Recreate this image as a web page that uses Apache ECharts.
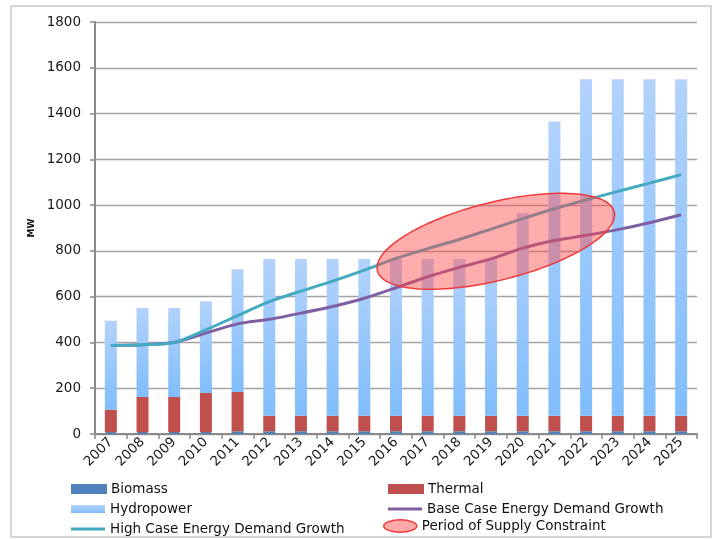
<!DOCTYPE html>
<html>
<head>
<meta charset="utf-8">
<script src="https://cdn.jsdelivr.net/npm/echarts@6/dist/echarts.min.js"></script>
<style>
  html, body { margin: 0; padding: 0; background: #ffffff; }
  #chart { width: 714px; height: 539px; }
</style>
</head>
<body>
<div id="chart"></div>
<script>
// Installed capacity by source (MW) and projected demand, 2007-2025
const years = ['2007','2008','2009','2010','2011','2012','2013','2014','2015','2016',
               '2017','2018','2019','2020','2021','2022','2023','2024','2025'];
const biomass = [8, 8, 8, 8, 12, 12, 12, 12, 12, 12, 12, 12, 12, 12, 12, 12, 12, 12, 12];
const thermal = [98, 154, 154, 171, 171, 68, 68, 68, 68, 68, 68, 68, 68, 68, 68, 68, 68, 68, 68];
const hydropower = [389, 388, 388, 401, 537, 685, 685, 685, 685, 685, 685, 685, 685, 885, 1285, 1470, 1470, 1470, 1470];
const baseDemand = [387, 390, 400, 441, 481, 501, 528, 557, 593, 639, 687, 728, 765, 812, 845, 868, 893, 923, 958];
const highDemand = [387, 390, 400, 455, 517, 578, 624, 668, 716, 767, 810, 850, 895, 941, 984, 1023, 1060, 1096, 1133];
// Supply-constraint period marker: centre (category position, MW)
const constraintCentre = [[12.15, 842]];
const yTicks = { min: 0, max: 1800, interval: 200 };

const FONT = 'DejaVu Sans';
const chart = echarts.init(document.getElementById('chart'), null, { renderer: 'canvas' });

function ellipsePoints(cx, cy, a, b, phi) {
  const pts = [];
  const n = 120;
  for (let i = 0; i < n; i++) {
    const t = (i / n) * Math.PI * 2;
    const ex = a * Math.cos(t), ey = b * Math.sin(t);
    pts.push([cx + ex * Math.cos(phi) + ey * Math.sin(phi),
              cy - ex * Math.sin(phi) + ey * Math.cos(phi)]);
  }
  return pts;
}

const hydroGradient = new echarts.graphic.LinearGradient(0, 0, 0, 1, [
  { offset: 0, color: '#b3d2fc' },
  { offset: 1, color: '#80bdfc' }
]);

const legendText = { fontFamily: FONT, fontSize: 13.5, color: '#111' };
const barLegend = (name, left, top) => ({
  data: [name], left: left, top: top, padding: 0, itemWidth: 34, itemHeight: 8, icon: 'rect',
  textStyle: legendText, selectedMode: false
});
const lineLegend = (name, left, top) => ({
  data: [name], left: left, top: top, padding: 0, itemWidth: 34, itemHeight: 3, icon: 'rect',
  textStyle: legendText, selectedMode: false
});

chart.setOption({
  animation: false,
  backgroundColor: '#ffffff',
  graphic: [{
    type: 'rect', z: -10, silent: true,
    shape: { x: 11, y: 6, width: 700, height: 531 },
    style: { fill: 'none', stroke: '#c8c8c8', lineWidth: 1.5 }
  }],
  legend: [
    barLegend('Biomass', 71, 482),
    barLegend('Hydropower', 71, 502),
    lineLegend('High Case Energy Demand Growth', 71, 522),
    barLegend('Thermal', 388, 482),
    lineLegend('Base Case Energy Demand Growth', 388, 502),
    {
      data: ['Period of Supply Constraint'], left: 383, top: 519, padding: 0,
      itemWidth: 33, itemHeight: 13, selectedMode: false,
      icon: 'path://M0,6A16,6 0 1,0 32,6A16,6 0 1,0 0,6Z',
      itemStyle: { color: 'rgba(255,110,110,0.6)', borderColor: '#ee3a3a', borderWidth: 1.5 },
      textStyle: legendText
    }
  ],
  grid: { left: 95, right: 17, top: 22, bottom: 105, containLabel: false },
  xAxis: {
    type: 'category',
    data: years,
    boundaryGap: true,
    axisLine: { lineStyle: { color: '#8a8a8a', width: 2 } },
    axisTick: { show: true, length: 5, alignWithLabel: false, lineStyle: { color: '#8a8a8a', width: 1.5 } },
    axisLabel: { rotate: 45, margin: 6, fontFamily: FONT, fontSize: 13.5, color: '#1a1a1a' }
  },
  yAxis: {
    type: 'value',
    min: yTicks.min, max: yTicks.max, interval: yTicks.interval,
    name: 'MW', nameLocation: 'middle', nameGap: 52, nameRotate: 90,
    nameTextStyle: { fontFamily: FONT, fontSize: 9, fontWeight: 'bold', color: '#111' },
    axisLine: { show: true, lineStyle: { color: '#8a8a8a', width: 2 } },
    axisTick: { show: true, length: 5, lineStyle: { color: '#8a8a8a', width: 1.5 } },
    axisLabel: { margin: 14, fontFamily: FONT, fontSize: 13.5, color: '#1a1a1a',
                 formatter: function (v) { return String(v); } },
    splitLine: { lineStyle: { color: '#a3a3a3', width: 1.3 } }
  },
  series: [
    {
      name: 'Biomass', type: 'bar', stack: 'supply', data: biomass, barWidth: 12,
      itemStyle: { color: '#4f81bd', borderColor: '#4f81bd', borderWidth: 2 }
    },
    {
      name: 'Thermal', type: 'bar', stack: 'supply', data: thermal, barWidth: 12,
      itemStyle: { color: '#c0504d', borderColor: '#c0504d', borderWidth: 2 }
    },
    {
      name: 'Hydropower', type: 'bar', stack: 'supply', data: hydropower, barWidth: 12,
      itemStyle: { color: hydroGradient }
    },
    {
      name: 'Base Case Energy Demand Growth', type: 'line', data: baseDemand,
      smooth: 0.25, symbol: 'none', z: 3,
      itemStyle: { color: '#7f5fa2' },
      lineStyle: { color: '#7f5fa2', width: 3 }
    },
    {
      name: 'High Case Energy Demand Growth', type: 'line', data: highDemand,
      smooth: 0.25, symbol: 'none', z: 4,
      itemStyle: { color: '#43aac2' },
      lineStyle: { color: '#43aac2', width: 3 }
    },
    {
      name: 'Period of Supply Constraint', type: 'custom', data: constraintCentre, z: 5,
      itemStyle: { color: 'rgba(255,70,70,0.45)', borderColor: '#ee3a3a', borderWidth: 1.5 },
      renderItem: function (params, api) {
        // interpolate between neighbouring category positions
        const pos = api.value(0), mw = api.value(1);
        const i0 = Math.floor(pos), f = pos - i0;
        const p0 = api.coord([i0, mw]), p1 = api.coord([i0 + 1, mw]);
        const cx = p0[0] + (p1[0] - p0[0]) * f, cy = p0[1];
        return {
          type: 'polygon',
          shape: { points: ellipsePoints(cx, cy, 122, 39, 14 * Math.PI / 180) },
          style: { fill: 'rgba(255,70,70,0.45)', stroke: '#ee3a3a', lineWidth: 1.5 }
        };
      }
    }
  ]
});
</script>
</body>
</html>
